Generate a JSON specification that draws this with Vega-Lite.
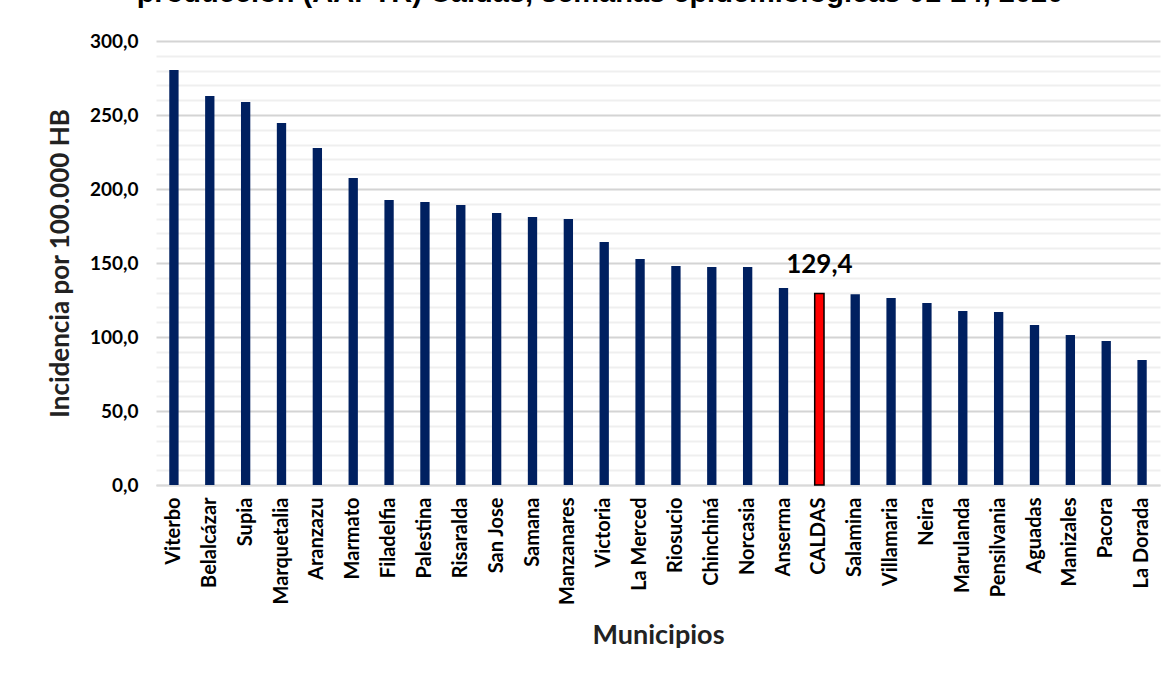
{
  "$schema": "https://vega.github.io/schema/vega-lite/v6.json",
  "width": 1004,
  "height": 444,
  "autosize": {"type": "none"},
  "padding": {"left": 156, "top": 41, "right": 16, "bottom": 194},
  "background": "white",
  "title": {
    "text": "producción (AAPTR) Caldas, semanas epidemiológicas 01-24, 2020",
    "font": "Liberation Sans",
    "fontSize": 29,
    "fontWeight": "bold",
    "color": "black",
    "anchor": "middle",
    "offset": 24,
    "dx": -58
  },
  "config": {
    "view": {"stroke": null},
    "font": "Lato"
  },
  "data": {
    "values": [
      {"municipio": "Viterbo", "incidencia": 280.4},
      {"municipio": "Belalcázar", "incidencia": 262.8},
      {"municipio": "Supia", "incidencia": 258.8},
      {"municipio": "Marquetalia", "incidencia": 244.6},
      {"municipio": "Aranzazu", "incidencia": 227.7},
      {"municipio": "Marmato", "incidencia": 207.4},
      {"municipio": "Filadelfia", "incidencia": 192.6},
      {"municipio": "Palestina", "incidencia": 191.2},
      {"municipio": "Risaralda", "incidencia": 189.2},
      {"municipio": "San Jose", "incidencia": 183.8},
      {"municipio": "Samana", "incidencia": 181.1},
      {"municipio": "Manzanares", "incidencia": 179.7},
      {"municipio": "Victoria", "incidencia": 164.2},
      {"municipio": "La Merced", "incidencia": 152.7},
      {"municipio": "Riosucio", "incidencia": 148.0},
      {"municipio": "Chinchiná", "incidencia": 147.3},
      {"municipio": "Norcasia", "incidencia": 147.3},
      {"municipio": "Anserma", "incidencia": 133.1},
      {"municipio": "CALDAS", "incidencia": 129.4, "total": true},
      {"municipio": "Salamina", "incidencia": 128.9},
      {"municipio": "Villamaria", "incidencia": 126.4},
      {"municipio": "Neira", "incidencia": 123.0},
      {"municipio": "Marulanda", "incidencia": 117.6},
      {"municipio": "Pensilvania", "incidencia": 116.9},
      {"municipio": "Aguadas", "incidencia": 108.1},
      {"municipio": "Manizales", "incidencia": 101.4},
      {"municipio": "Pacora", "incidencia": 97.3},
      {"municipio": "La Dorada", "incidencia": 84.5}
    ]
  },
  "encoding": {
    "x": {
      "field": "municipio",
      "type": "nominal",
      "sort": null,
      "scale": {"paddingInner": 0.74, "paddingOuter": 0.37},
      "axis": {
        "title": "Municipios",
        "titleFont": "Lato",
        "titleFontSize": 27,
        "titleFontWeight": "bold",
        "titleColor": "#222222",
        "titlePadding": 18,
        "labelAngle": -90,
        "labelAlign": "right",
        "labelBaseline": "middle",
        "labelFont": "Lato",
        "labelFontSize": 20,
        "labelFontWeight": "bold",
        "labelColor": "black",
        "labelPadding": 12,
        "ticks": false,
        "domainColor": "#d9d9d9",
        "domainWidth": 1.5,
        "grid": false
      }
    },
    "y": {
      "field": "incidencia",
      "type": "quantitative",
      "scale": {"domain": [0, 300], "nice": false},
      "axis": {
        "title": "Incidencia por  100.000 HB",
        "titleFont": "Lato",
        "titleFontSize": 26,
        "titleFontWeight": "bold",
        "titleColor": "#222222",
        "titlePadding": 16,
        "values": [0,10,20,30,40,50,60,70,80,90,100,110,120,130,140,150,160,170,180,190,200,210,220,230,240,250,260,270,280,290,300],
        "labelExpr": "datum.value % 50 === 0 ? replace(format(datum.value, '.1f'), '.', ',') : ''",
        "labelFont": "Lato",
        "labelFontSize": 19,
        "labelFontWeight": "bold",
        "labelColor": "black",
        "labelPadding": 18,
        "ticks": false,
        "domain": false,
        "grid": true,
        "gridColor": {"condition": {"test": "datum.value % 50 === 0", "value": "#d4d4d4"}, "value": "#efefef"},
        "gridWidth": 2
      }
    }
  },
  "layer": [
    {
      "mark": {"type": "bar"},
      "encoding": {
        "color": {
          "condition": {"test": "datum.total", "value": "#ff0000"},
          "value": "#002060"
        },
        "stroke": {
          "condition": {"test": "datum.total", "value": "black"},
          "value": null
        },
        "strokeWidth": {
          "condition": {"test": "datum.total", "value": 1.5},
          "value": 0
        }
      }
    },
    {
      "transform": [
        {"filter": "datum.total"},
        {"calculate": "replace(format(datum.incidencia, '.1f'), '.', ',')", "as": "etiqueta"}
      ],
      "mark": {"type": "text", "dy": -28, "font": "Lato", "fontSize": 26, "fontWeight": "bold", "color": "black"},
      "encoding": {
        "text": {"field": "etiqueta", "type": "nominal"}
      }
    }
  ]
}
